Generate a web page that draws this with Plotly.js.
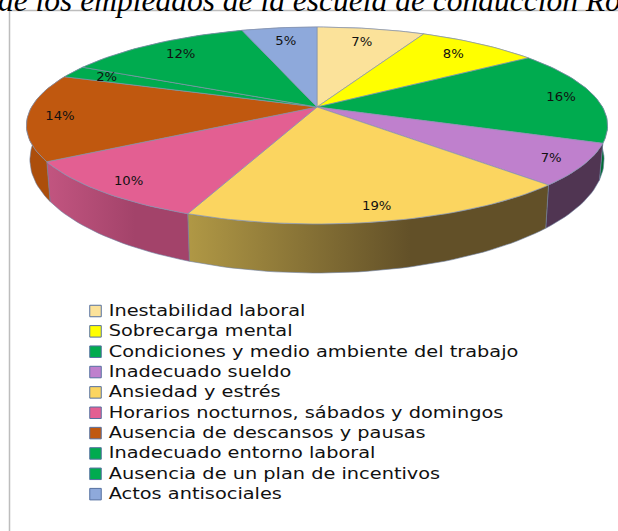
<!DOCTYPE html>
<html><head><meta charset="utf-8">
<script src="https://cdn.plot.ly/plotly-3.0.1.min.js"></script>
<style>html,body{margin:0;padding:0;background:#fff;overflow:hidden}#c{width:618px;height:531px}</style>
</head><body><div id="c"></div>
<script>
const categories = ["Inestabilidad laboral","Sobrecarga mental","Condiciones y medio ambiente del trabajo","Inadecuado sueldo","Ansiedad y estrés","Horarios nocturnos, sábados y domingos","Ausencia de descansos y pausas","Inadecuado entorno laboral","Ausencia de un plan de incentivos","Actos antisociales"];
const values = [7.2,8.1,15.5,6.8,18.5,10.2,14.2,2.0,12.49,5.01];
const topColors = ["#FBE29A","#FFFF00","#00AB4F","#BF80CD","#FBD560","#E35F92","#C0580F","#00AB4F","#00AB4F","#8EA9DB"];
const wallLeft = ["#FBE29A","#FFFF00","#008A40","#503552","#B09845","#C25580","#AC4E0B","#008A40","#008A40","#8EA9DB"];
const wallRight = ["#FBE29A","#FFFF00","#006E33","#503552","#625028","#A3436A","#AC4E0B","#008A40","#008A40","#8EA9DB"];
const titleText = "de los empleados de la escuela de conducción Ro";

const apexX=317, apexY=107, A=285.4, B=95, K=0.188;
const wallX=0.988, wallY=1.15, wallApexY=138.5;
const total = values.reduce((a,b)=>a+b,0);
const ang = f => Math.PI/2 - 2*Math.PI*f;
function proj(u,v,sx,sy,y0){const d=1+K*v; return [apexX+sx*A*u/d, y0-sy*B*v/d];}
function rim(f0,f1,sx,sy,y0){const n=Math.max(4,Math.round((f1-f0)*240));const p=[];
  for(let i=0;i<=n;i++){const t=ang(f0+(f1-f0)*i/n);p.push(proj(Math.cos(t),Math.sin(t),sx,sy,y0));}return p;}

const walls=[],faces=[];
const labX=[],labY=[],labT=[];
let cum=0;
values.forEach((val,i)=>{
  const f0=cum/total,f1=(cum+val)/total;cum+=val;
  const upper=rim(f0,f1,1,1,apexY), lower=rim(f0,f1,wallX,wallY,wallApexY).reverse();
  const w=upper.concat(lower);w.push(upper[0]);
  walls.push({type:'scatter',mode:'lines',x:w.map(p=>p[0]),y:w.map(p=>p[1]),fill:'toself',
    line:{color:'#6E7FA0',width:0.6},hoverinfo:'skip',showlegend:false,
    fillgradient:{type:'horizontal',colorscale:[[0,wallLeft[i]],[0.62,wallRight[i]],[1,wallRight[i]]]}});
  const a=proj(0,0,1,1,apexY);
  const t=[a].concat(upper,[a]);
  faces.push({type:'scatter',mode:'lines',x:t.map(p=>p[0]),y:t.map(p=>p[1]),fill:'toself',fillcolor:topColors[i],
    line:{color:'#8592AE',width:0.7},name:categories[i],hoverinfo:'name',showlegend:false});
  const mid=ang((f0+f1)/2),v=Math.sin(mid),r=0.89-0.09*Math.max(v,0),lp=proj(r*Math.cos(mid),r*v,1,1,apexY);
  labX.push(lp[0]);labY.push(lp[1]+1);labT.push(Math.round(val)+"%");
});
const labels={type:'scatter',mode:'text',x:labX,y:labY,text:labT,textposition:'middle center',
  textfont:{family:'DejaVu Sans',size:11.5,color:'#111'},hoverinfo:'skip',showlegend:false};
const legendY=categories.map((c,i)=>311+i*20.35);
const legend={type:'scatter',mode:'markers+text',x:categories.map(()=>95.5),y:legendY,text:categories,
  textposition:'middle right',textfont:{family:'DejaVu Sans',size:15.5,color:'#111'},
  marker:{symbol:'square',size:11.5,color:topColors,line:{color:'#5570A0',width:1}},
  hoverinfo:'skip',showlegend:false};

Plotly.newPlot('c',walls.concat(faces,[labels,legend]),{
  width:618,height:531,margin:{l:0,r:0,t:0,b:0},paper_bgcolor:'#fff',plot_bgcolor:'#fff',showlegend:false,
  xaxis:{range:[0,618],visible:false,fixedrange:true},
  yaxis:{range:[531,0],visible:false,fixedrange:true},
  title:{text:titleText,font:{family:'Liberation Serif',size:31.5,color:'#000'},x:0,xref:'container',xanchor:'left',y:1,yref:'container',yanchor:'middle',pad:{l:-2}},
  shapes:[
   {type:'line',xref:'x',yref:'y',x0:9.5,x1:9.5,y0:10.5,y1:531,line:{color:'#BDBDBD',width:1.5}},
   {type:'line',xref:'x',yref:'y',x0:9.5,x1:618,y0:10.5,y1:10.5,line:{color:'#BDBDBD',width:1.5}}]
},{displayModeBar:false,staticPlot:true}).then(()=>{
  const t=document.querySelector('.gtitle');if(t)t.style.fontStyle='italic';
  document.querySelectorAll('.textpoint text').forEach(el=>{
    const s=el.textContent, isLabel=/%$/.test(s), w=el.getComputedTextLength();
    const stretch=isLabel?1.15:1.247;
    el.setAttribute('lengthAdjust','spacingAndGlyphs');
    el.setAttribute('textLength',w*stretch);
    if(!isLabel){el.setAttribute('dx',5);el.setAttribute('dy',1);}
  });
});
</script></body></html>
